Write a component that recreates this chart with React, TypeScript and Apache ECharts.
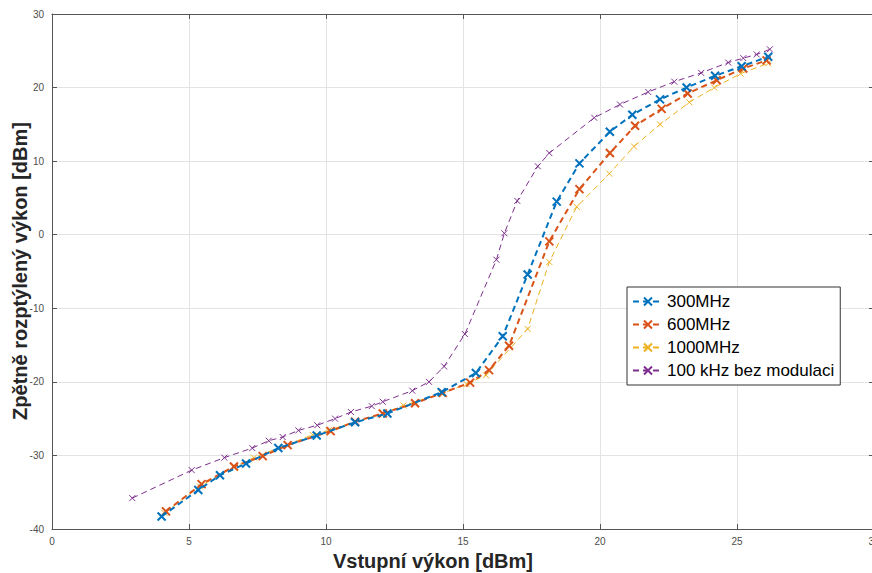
import React, { useEffect, useRef } from "react";
import * as echarts from "echarts";

const xTicks = [0, 5, 10, 15, 20, 25, 30];
const yTicks = [-40, -30, -20, -10, 0, 10, 20, 30];

const seriesNames = ["300MHz", "600MHz", "1000MHz", "100 kHz bez modulaci"];

const x300 = [4.0, 5.34, 6.13, 7.08, 8.26, 9.66, 11.06, 12.24, 14.22, 15.47, 16.45, 17.36, 18.42, 19.25, 20.36, 21.18, 22.19, 23.16, 24.2, 25.17, 26.14];
const y300 = [-38.3, -34.7, -32.7, -31.1, -29.0, -27.3, -25.5, -24.3, -21.4, -18.8, -13.8, -5.4, 4.5, 9.7, 14.0, 16.3, 18.4, 20.0, 21.6, 22.9, 24.2];

const x600 = [4.16, 5.46, 6.64, 7.69, 8.6, 10.17, 11.06, 12.07, 13.25, 14.26, 15.26, 15.95, 16.68, 18.15, 19.25, 20.36, 21.28, 22.25, 23.2, 24.26, 25.23, 26.08];
const y600 = [-37.6, -33.9, -31.5, -30.1, -28.6, -26.7, -25.4, -24.3, -22.9, -21.5, -20.1, -18.4, -15.1, -0.9, 6.2, 11.1, 14.8, 17.1, 19.2, 21.0, 22.6, 23.7];

const x1000 = [4.1, 5.4, 6.64, 7.37, 8.6, 9.51, 10.1, 11.06, 12.07, 12.83, 14.22, 15.13, 15.84, 17.36, 18.15, 19.15, 20.34, 21.24, 22.19, 23.26, 24.17, 25.13, 26.14];
const y1000 = [-37.8, -34.2, -31.6, -30.3, -28.5, -27.2, -26.6, -25.4, -24.3, -23.2, -21.6, -20.3, -19.1, -12.8, -3.7, 3.8, 8.3, 12.0, 15.0, 18.0, 20.0, 21.9, 23.3];

const xRef = [2.93, 5.1, 6.29, 7.31, 7.91, 8.42, 8.99, 9.68, 10.33, 10.91, 11.67, 12.07, 13.15, 13.76, 14.31, 15.07, 16.22, 16.51, 16.98, 17.73, 18.15, 19.79, 20.73, 21.76, 22.71, 23.69, 24.68, 25.23, 25.72, 26.2];
const yRef = [-35.8, -32.0, -30.3, -29.0, -28.0, -27.5, -26.6, -25.9, -25.0, -24.1, -23.3, -22.7, -21.2, -20.0, -17.9, -13.5, -3.4, 0.2, 4.6, 9.3, 11.1, 15.9, 17.7, 19.4, 20.8, 22.0, 23.4, 24.0, 24.5, 25.2];

const xTitle = "Vstupní výkon [dBm]";
const yTitle = "Zpětně rozptýlený výkon [dBm]";

const colors = ["#0072BD", "#D95319", "#EDB120", "#7E2F8E"];
const FONT = "'Liberation Sans', Arial, Helvetica, sans-serif";
const CROSS = "path://M0,0L10,10M10,0L0,10";

function pairs(xs: number[], ys: number[]) {
  return xs.map((x, i) => [x, ys[i]]);
}

export default function App() {
  const ref = useRef<HTMLDivElement>(null);
  useEffect(() => {
    if (!ref.current) return;
    const chart = echarts.init(ref.current, undefined, { renderer: "svg" });
    const datasets = [pairs(x300, y300), pairs(x600, y600), pairs(x1000, y1000), pairs(xRef, yRef)];
    const widths = [2, 2, 1, 1];
    const msize = [8, 8, 6, 6];
    const mwidth = [2, 2, 1, 1];
    const axisColor = "#555";
    const commonX = {
      type: "value",
      min: xTicks[0],
      max: xTicks[xTicks.length - 1],
      interval: 5,
    };
    const commonY = {
      type: "value",
      min: yTicks[0],
      max: yTicks[yTicks.length - 1],
      interval: 10,
    };
    chart.setOption({
      animation: false,
      backgroundColor: "#fff",
      grid: { left: 52, top: 14, width: 822, height: 515, containLabel: false, outerBoundsMode: "none" },
      xAxis: [
        {
          ...commonX,
          position: "bottom",
          axisLine: { show: true, onZero: false, lineStyle: { color: axisColor, width: 1 } },
          axisTick: { show: true, inside: true, length: 5, lineStyle: { color: axisColor } },
          axisLabel: { color: "#4d4d4d", fontSize: 10, fontFamily: FONT, margin: 7, showMaxLabel: true, showMinLabel: true },
          splitLine: { show: true, lineStyle: { color: "#e3e3e3", width: 1 } },
        },
        {
          ...commonX,
          position: "top",
          axisLine: { show: true, onZero: false, lineStyle: { color: axisColor, width: 1 } },
          axisTick: { show: true, inside: true, length: 5, lineStyle: { color: axisColor } },
          axisLabel: { show: false },
          splitLine: { show: false },
        },
      ],
      yAxis: [
        {
          ...commonY,
          position: "left",
          axisLine: { show: true, onZero: false, lineStyle: { color: axisColor, width: 1 } },
          axisTick: { show: true, inside: true, length: 5, lineStyle: { color: axisColor } },
          axisLabel: { color: "#4d4d4d", fontSize: 10, fontFamily: FONT, margin: 8 },
          splitLine: { show: true, lineStyle: { color: "#e3e3e3", width: 1 } },
        },
        {
          ...commonY,
          position: "right",
          axisLine: { show: true, onZero: false, lineStyle: { color: axisColor, width: 1 } },
          axisTick: { show: true, inside: true, length: 5, lineStyle: { color: axisColor } },
          axisLabel: { show: false },
          splitLine: { show: false },
        },
      ],
      legend: {
        orient: "vertical",
        left: 627,
        top: 287,
        padding: [5, 6, 5, 5],
        itemGap: 4,
        itemWidth: 30,
        itemHeight: 10,
        backgroundColor: "#fff",
        borderColor: "#333",
        borderWidth: 1,
        borderRadius: 0,
        textStyle: { fontSize: 17, fontFamily: FONT, color: "#000", lineHeight: 19, padding: [0, 0, 0, -1] },
        data: seriesNames,
      },
      series: datasets.map((d, i) => ({
        name: seriesNames[i],
        type: "line",
        xAxisIndex: 0,
        yAxisIndex: 0,
        data: d,
        symbol: CROSS,
        symbolSize: msize[i],
        showSymbol: true,
        lineStyle: { color: colors[i], width: widths[i], type: [6, 4] },
        itemStyle: { color: colors[i], borderColor: colors[i], borderWidth: mwidth[i] },
        z: 10 - i,
      })),
      graphic: [
        {
          type: "text",
          x: 433,
          y: 561,
          style: {
            text: xTitle,
            font: `bold 20px ${FONT}`,
            fill: "#262626",
            align: "center",
            verticalAlign: "middle",
          },
        },
        {
          type: "text",
          x: 20,
          y: 271,
          rotation: Math.PI / 2,
          style: {
            text: yTitle,
            font: `bold 20px ${FONT}`,
            fill: "#262626",
            align: "center",
            verticalAlign: "middle",
          },
        },
      ],
    });
    return () => chart.dispose();
  }, []);
  return (
    <div
      ref={ref}
      style={{ position: "fixed", left: 0, top: 0, width: 872, height: 573, background: "#fff" }}
    />
  );
}
